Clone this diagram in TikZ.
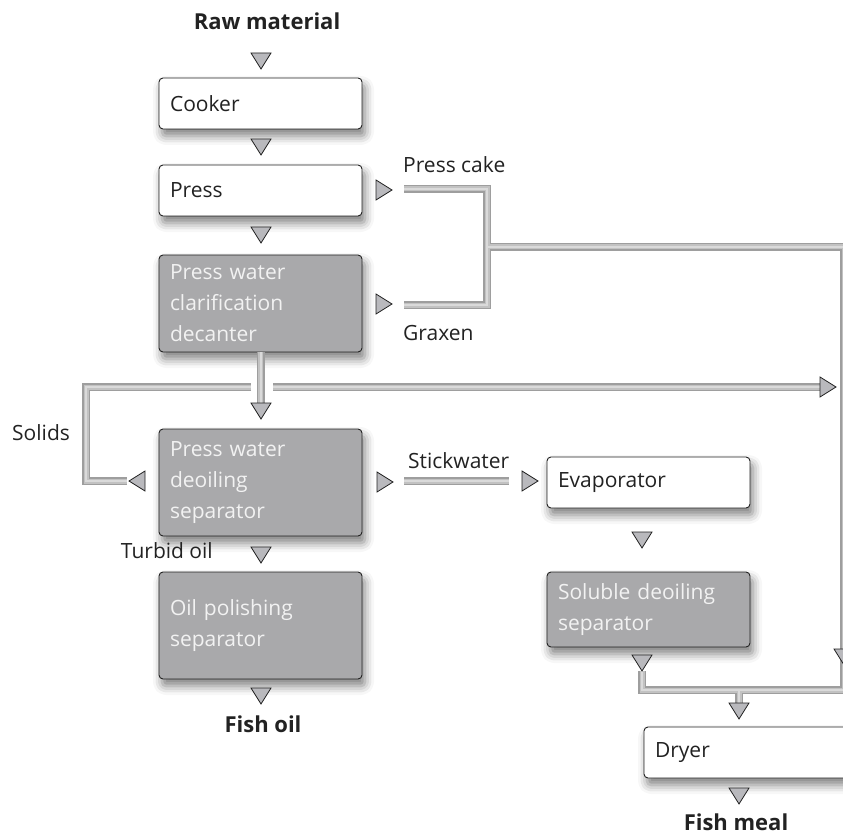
\documentclass[tikz,border=0pt]{standalone}
\usepackage{fontspec}
\setmainfont{Open Sans}
\usetikzlibrary{shadows.blur}
\definecolor{boxgray}{HTML}{A9A9AB}
\definecolor{trigray}{HTML}{B9B9BD}
\definecolor{pipeout}{HTML}{9E9E9E}
\definecolor{pipemid}{HTML}{C2C2C2}
\definecolor{pipein}{HTML}{DADADA}
\definecolor{ink}{HTML}{222222}
\begin{document}
\begin{tikzpicture}[x=1pt,y=-1pt,
  every node/.style={font=\fontsize{21}{31}\selectfont, text=ink},
  box/.style={draw=ink, line width=0.9pt, rounded corners=4pt, minimum width=203pt,
    text width=181pt, align=left, inner xsep=11pt, inner ysep=0pt,
    blur shadow={shadow xshift=3pt, shadow yshift=-7pt, shadow blur radius=9pt, shadow opacity=50}},
  wbox/.style={box, fill=white},
  gbox/.style={box, fill=boxgray, text=white!95!black},
  lbl/.style={inner sep=0pt},
  blbl/.style={inner sep=0pt, font=\fontsize{22}{31}\selectfont\bfseries},
  pipe/.style={draw=pipeout, line width=8pt, line join=miter,
    postaction={draw=pipemid, line width=5pt},
    postaction={draw=pipein, line width=2pt}},
  tri/.style={fill=trigray, draw=ink, line width=0.8pt, line join=miter},
  tdown/.pic={\path[tri] (-10,0) -- (10,0) -- (0,16) -- cycle;},
  tright/.pic={\path[tri] (0,-10) -- (0,10) -- (16,0) -- cycle;},
  tleft/.pic={\path[tri] (0,-10) -- (0,10) -- (-16,0) -- cycle;}
]
\useasboundingbox (0,0) rectangle (843,834);
\clip (0,0) rectangle (843,834);

% boxes
\node[wbox, minimum height=51pt] (cooker) at (260.5,103.5) {Cooker};
\node[wbox, minimum height=51pt] (press) at (260.5,190.5) {Press};
\node[gbox, minimum height=97pt] (decanter) at (260.5,303.5) {Press water\\clarification\\decanter};
\node[gbox, minimum height=107pt] (deoil) at (260.5,482.5) {Press water\\deoiling\\separator};
\node[gbox, minimum height=107pt] (polish) at (260.5,625.5) {Oil polishing\\separator};
\node[wbox, minimum height=51pt] (evap) at (648.5,482.5) {Evaporator};
\node[gbox, minimum height=75pt] (soluble) at (648.5,609.5) {Soluble deoiling\\separator};
\node[wbox, minimum height=51pt] (dryer) at (745.5,752.5) {Dryer};

% pipe coordinates
\coordinate (pcS) at (404,189);
\coordinate (pcK) at (487,189);
\coordinate (gxK) at (487,305);
\coordinate (gxS) at (404,305);
\coordinate (jA) at (487,247);
\coordinate (rTop) at (844,247);
\coordinate (rBot) at (844,690);
\coordinate (sBot) at (642,690);
\coordinate (sTop) at (642,671);
\coordinate (dJ) at (739,690);
\coordinate (dT) at (739,703);
\coordinate (sL) at (251,387);
\coordinate (sC1) at (86,387);
\coordinate (sC2) at (86,481);
\coordinate (sE) at (127,481);
\coordinate (hR1) at (273,387);
\coordinate (hR2) at (820,387);
\coordinate (dv) at (260.5,403);
\coordinate (swS) at (404,481);
\coordinate (swE) at (509,481);

% pipes
\draw[pipe] (pcS) -- (pcK) -- (gxK) -- (gxS) (jA) -- (rTop) -- (rBot) -- (sBot) -- (sTop) (dJ) -- (dT);
\draw[pipe] (sL) -- (sC1) -- (sC2) -- (sE);
\draw[pipe] (hR1) -- (hR2);
\draw[pipe] (decanter.south) -- (dv);
\draw[pipe] (swS) -- (swE);

% triangles
\pic at (261,53) {tdown};
\pic at (261,139) {tdown};
\pic at (261,227) {tdown};
\pic at (261,403) {tdown};
\pic at (261,547) {tdown};
\pic at (261,688) {tdown};
\pic at (642,532) {tdown};
\pic at (642,655) {tdown};
\pic at (844,649) {tdown};
\pic at (739,703) {tdown};
\pic at (739,788) {tdown};
\pic at (376,190) {tright};
\pic at (376,304) {tright};
\pic at (377,482) {tright};
\pic at (522,481) {tright};
\pic at (820,387) {tright};
\pic at (145,481) {tleft};

% labels
\node[blbl, anchor=base] (raw) at (267,30) {Raw material};
\node[lbl, anchor=base west] (presscake) at (403,173) {Press cake};
\node[lbl, anchor=base west] (graxen) at (403,340) {Graxen};
\node[lbl, anchor=base west] (solids) at (12,440) {Solids};
\node[lbl, anchor=base west] (stick) at (408,468) {Stickwater};
\node[lbl, anchor=base east] (turbid) at (213,558) {Turbid oil};
\node[blbl, anchor=base] (fishoil) at (263,732) {Fish oil};
\node[blbl, anchor=base] (fishmeal) at (736,830) {Fish meal};
\end{tikzpicture}
\end{document}
